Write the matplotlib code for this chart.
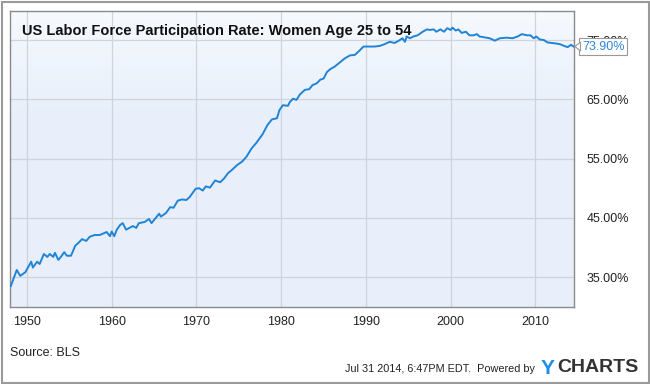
import matplotlib
matplotlib.use("Agg")
import matplotlib.pyplot as plt
import numpy as np
from matplotlib.patches import Rectangle, Polygon

plt.rcParams['font.family'] = ['Liberation Sans', 'DejaVu Sans']

years = [1948.1, 1948.8, 1949.2, 1949.8, 1950.5, 1950.7, 1951.2, 1951.5, 1952.0, 1952.4,
         1952.7, 1953.1, 1953.3, 1953.7, 1954.0, 1954.4, 1954.7, 1955.2, 1955.7, 1956.1,
         1956.5, 1957.0, 1957.4, 1958.0, 1958.6, 1959.4, 1959.8, 1960.0, 1960.3, 1960.6,
         1961.0, 1961.3, 1961.7, 1962.1, 1962.5, 1962.9, 1963.2, 1963.9, 1964.4, 1964.7,
         1965.2, 1965.6, 1965.8, 1966.4, 1966.9, 1967.3, 1967.8, 1968.3, 1968.8, 1969.2,
         1969.9, 1970.3, 1970.75, 1971.1, 1971.6, 1972.2, 1972.8, 1973.3, 1973.7, 1974.2,
         1974.8, 1975.4, 1975.9, 1976.5, 1977.1, 1977.8, 1978.4, 1978.9, 1979.5, 1979.8,
         1980.2, 1980.8, 1981.0, 1981.4, 1981.8, 1982.2, 1982.8, 1983.3, 1983.7, 1984.2,
         1984.6, 1985.0, 1985.4, 1985.8, 1986.3, 1986.9, 1987.5, 1988.1, 1988.7, 1989.3,
         1989.7, 1990.2, 1991.0, 1991.6, 1992.2, 1992.8, 1993.4, 1994.0, 1994.3, 1994.6,
         1994.8, 1995.2, 1995.6, 1996.1, 1996.7, 1997.2, 1997.5, 1998.0, 1998.3, 1998.8,
         1999.2, 1999.6, 2000.0, 2000.2, 2000.6, 2000.9, 2001.3, 2001.8, 2002.2, 2002.7,
         2003.1, 2003.4, 2003.8, 2004.2, 2004.6, 2005.2, 2005.8, 2006.6, 2007.3, 2007.9,
         2008.4, 2009.0, 2009.4, 2009.8, 2010.1, 2010.5, 2011.0, 2011.4, 2012.0, 2012.5,
         2012.9, 2013.4, 2013.8, 2014.2, 2014.5]
rates = [33.5, 36.2, 35.2, 35.8, 37.6, 36.6, 37.6, 37.2, 38.9, 38.4,
         38.9, 38.4, 39.1, 37.9, 38.4, 39.2, 38.6, 38.6, 40.3, 40.8,
         41.4, 41.1, 41.8, 42.1, 42.1, 42.6, 41.9, 42.7, 41.9, 43.0,
         43.8, 44.1, 43.0, 43.3, 43.6, 43.3, 44.1, 44.3, 44.8, 44.1,
         45.0, 45.7, 45.2, 45.8, 46.8, 46.7, 47.9, 48.1, 48.0, 48.5,
         49.9, 50.0, 49.6, 50.3, 50.1, 51.3, 51.0, 51.7, 52.5, 53.1,
         53.9, 54.5, 55.3, 56.7, 57.7, 59.1, 60.7, 61.6, 61.8, 63.2,
         64.0, 63.9, 64.5, 65.1, 64.9, 65.8, 66.6, 66.7, 67.4, 67.7,
         68.3, 68.5, 69.6, 70.1, 70.5, 71.2, 71.9, 72.4, 72.5, 73.3,
         73.9, 73.9, 73.9, 74.0, 74.3, 74.7, 74.5, 75.0, 75.3, 74.7,
         75.6, 75.3, 75.6, 75.8, 76.4, 76.8, 76.7, 76.8, 76.4, 76.8,
         76.4, 77.0, 76.7, 77.1, 76.6, 76.8, 76.2, 76.4, 75.8, 75.8,
         76.0, 75.6, 75.5, 75.4, 75.3, 74.9, 75.3, 75.4, 75.3, 75.6,
         76.0, 75.8, 75.8, 75.3, 75.6, 75.1, 75.0, 74.6, 74.5, 74.4,
         74.3, 74.0, 73.8, 74.2, 73.9]
x_ticks = [1950, 1960, 1970, 1980, 1990, 2000, 2010]
y_ticks = [35, 45, 55, 65, 75]
last_label = "73.90%"
title = "US Labor Force Participation Rate: Women Age 25 to 54"

W, H = 650, 384
fig = plt.figure(figsize=(W / 100, H / 100), dpi=100)
fig.patch.set_facecolor('white')

L, R, T, B = 10, 574, 11, 306.7
ax = fig.add_axes([L / W, 1 - B / H, (R - L) / W, (B - T) / H])

xmin, xmax, ymin, ymax = 1948.0, 2014.55, 30.0, 79.9
ax.set_xlim(xmin, xmax)
ax.set_ylim(ymin, ymax)

# background gradient: lighter at the very top, light blue below
grad = np.linspace(0, 1, 256).reshape(-1, 1)
grad = np.clip(grad * 3.0, 0, 1)
top = np.array([0.965, 0.978, 0.995])
bot = np.array([0.910, 0.941, 0.984])
img = top[None, None, :] * (1 - grad[:, :, None]) + bot[None, None, :] * grad[:, :, None]
ax.imshow(img, extent=[xmin, xmax, ymin, ymax], aspect='auto', zorder=0, origin='upper')
ax.set_xlim(xmin, xmax)
ax.set_ylim(ymin, ymax)

ax.set_xticks(x_ticks)
ax.set_yticks(y_ticks)
ax.set_xticklabels([str(v) for v in x_ticks])
ax.set_yticklabels([f"{v:.2f}%" for v in y_ticks])
ax.yaxis.tick_right()
ax.tick_params(axis='both', length=0, labelsize=9, colors='#222222')
ax.tick_params(axis='y', pad=9)
ax.tick_params(axis='x', pad=7)
ax.grid(True, color='#cfd4db', linewidth=0.9)
ax.set_axisbelow(True)
for s in ax.spines.values():
    s.set_color('#8a8a8a')
    s.set_linewidth(1.0)

ax.plot(years, rates, color='#1f84d8', linewidth=1.4, zorder=3, solid_joinstyle='round')

ax.text(12 / (R - L), 1 - (31 - T) / (B - T), title, transform=ax.transAxes,
        fontsize=10.5, fontweight='bold', color='#111111', va='center', ha='left', zorder=5)

# last value label
fig.text(582 / W, 1 - 46.5 / H, last_label, fontsize=9, color='#2f86d6',
         va='center', ha='left', zorder=10,
         bbox=dict(boxstyle='square,pad=0.22', facecolor='white', edgecolor='#999999', linewidth=0.8))
tri = Polygon([[575 / W, 1 - 46.5 / H], [580.5 / W, 1 - 42 / H], [580.5 / W, 1 - 51 / H]],
              closed=True, transform=fig.transFigure, facecolor='white',
              edgecolor='#999999', linewidth=0.8, zorder=11)
fig.patches.append(tri)

fig.text(10 / W, 1 - 353 / H, "Source: BLS", fontsize=9, color='#222222', va='center', ha='left')

fig.text(535 / W, 1 - 369 / H, "Jul 31 2014, 6:47PM EDT.  Powered by", fontsize=7.8,
         color='#222222', va='center', ha='right')
fig.text(541 / W, 1 - 368 / H, "Y", fontsize=15, fontweight='bold', color='#1e8ee6',
         va='center', ha='left')
fig.text(557 / W, 1 - 368 / H, "CHARTS", fontsize=14, fontweight='bold', color='#333333',
         va='center', ha='left')

border = Rectangle((1.5 / W, 1.5 / H), (W - 3) / W, (H - 3) / H, transform=fig.transFigure,
                   fill=False, edgecolor='#9a9a9a', linewidth=1.5)
fig.patches.append(border)

fig.savefig("out.png", dpi=100)
